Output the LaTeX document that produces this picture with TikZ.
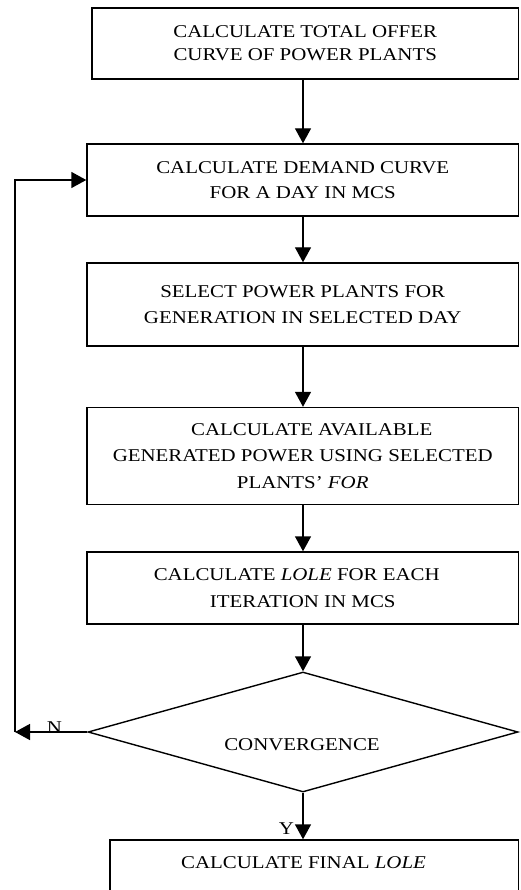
\documentclass[tikz,border=0pt]{standalone}
\usepackage{fontspec}
\setmainfont{Liberation Serif}[FakeStretch=1.16]
\usetikzlibrary{arrows.meta,shapes.geometric}
\begin{document}
\begin{tikzpicture}[x=1pt,y=-1pt,
  box/.style={draw, line width=1.4pt, rectangle, align=center, inner sep=0pt},
  lbl/.style={inner sep=0pt, font=\fontsize{18}{23}\selectfont},
  arr/.style={-{Triangle[length=15pt,width=16pt]}, line width=1.4pt},
]
\useasboundingbox (0,0) rectangle (520,890);
\fill[white] (0,0) rectangle (520,890);
\coordinate (axis) at (303,0);

\node[box, minimum width=426.5pt, minimum height=71pt, font=\fontsize{18}{23}\selectfont] (b1) at (305.25,43.5)
  {CALCULATE TOTAL OFFER\\CURVE OF POWER PLANTS};
\node[box, minimum width=431.5pt, minimum height=72pt, font=\fontsize{18}{25}\selectfont] (b2) at (302.75,180)
  {CALCULATE DEMAND CURVE\\FOR A DAY IN MCS};
\node[box, minimum width=431.5pt, minimum height=83pt, font=\fontsize{18}{26}\selectfont] (b3) at (302.75,304.5)
  {SELECT POWER PLANTS FOR\\GENERATION IN SELECTED DAY};
\node[box, minimum width=431.5pt, minimum height=97pt, font=\fontsize{18}{26.5}\selectfont] (b4) at (302.75,456)
  {\hspace*{18pt}CALCULATE AVAILABLE\\GENERATED POWER USING SELECTED\\PLANTS’ \textit{FOR}};
\node[box, minimum width=431.5pt, minimum height=72pt, font=\fontsize{18}{27}\selectfont] (b5) at (302.75,588)
  {CALCULATE \textit{LOLE} FOR EACH\hspace*{12pt}\\ITERATION IN MCS};
\node[draw, diamond, line width=1.4pt, minimum width=430pt, minimum height=120pt, inner sep=0pt] (d) at (303,732) {};
\node[lbl] (dt) at (302,745) {CONVERGENCE};
\node[box, minimum width=408.5pt, minimum height=70pt] (b6) at (314.25,875) {};
\node[lbl] (t6) at (303.5,863) {CALCULATE FINAL \textit{LOLE}};

\draw[arr] (b1.south -| axis) -- (b2.north -| axis);
\draw[arr] (b2.south -| axis) -- (b3.north -| axis);
\draw[arr] (b3.south -| axis) -- (b4.north -| axis);
\draw[arr] (b4.south -| axis) -- (b5.north -| axis);
\draw[arr] (b5.south -| axis) -- (d.north);
\draw[arr] (d.south) -- (b6.north -| axis);

\coordinate (lp) at (15,732);
\draw[arr] (d.west) -- (lp);
\draw[arr] (lp) |- (b2.west);

\node[lbl] (n) at (54.5,728) {N};
\node[lbl] (y) at (286.5,828.5) {Y};
\end{tikzpicture}
\end{document}
